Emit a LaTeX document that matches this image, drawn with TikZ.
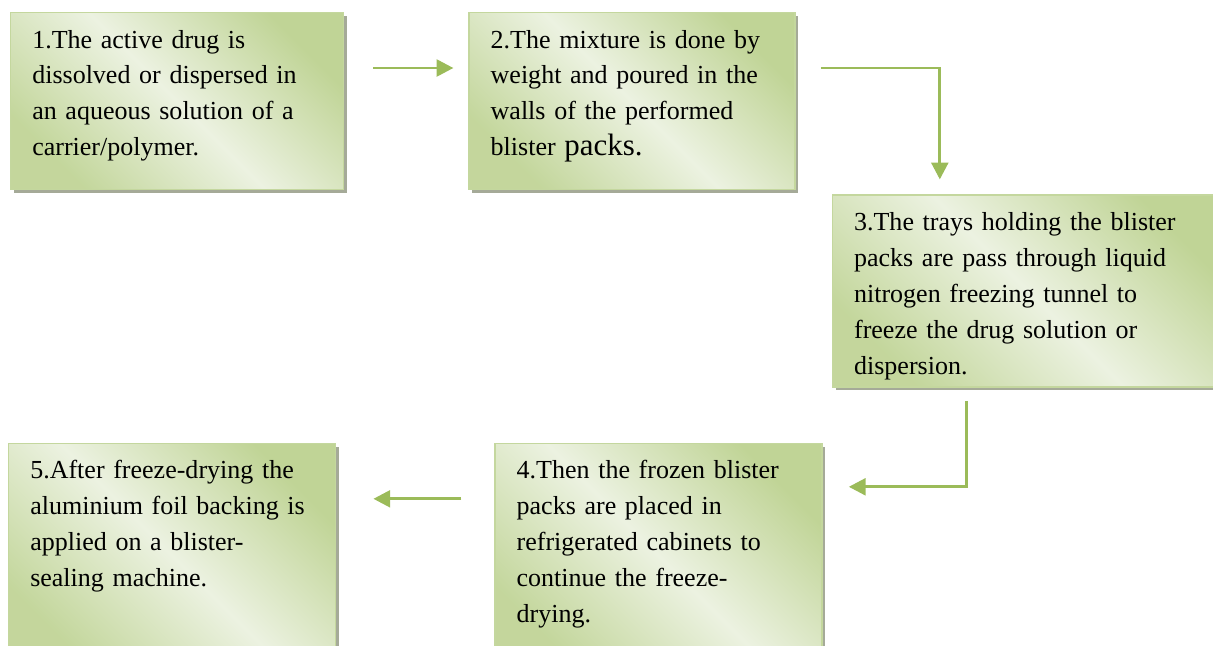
\documentclass[tikz,border=0pt]{standalone}
\usepackage{fontspec}
\setmainfont{Liberation Serif}
\usepackage{xcolor}
\definecolor{boxdark}{RGB}{192,212,150}
\definecolor{boxlight}{RGB}{236,242,225}
\definecolor{boxline}{RGB}{196,215,158}
\definecolor{shadowgray}{RGB}{165,170,152}
\definecolor{flowgreen}{RGB}{155,187,89}
\usetikzlibrary{arrows.meta,positioning,shadows}

\begin{document}
\begin{tikzpicture}[
  stage/.style={rectangle,draw=boxline,line width=1pt,inner sep=0pt,
                top color=boxdark,bottom color=boxdark!92!boxlight,
                middle color=boxlight,shading angle=-45,
                drop shadow={shadow xshift=0.075cm,shadow yshift=-0.075cm,
                             fill=shadowgray,opacity=1}},
  txt/.style={anchor=base west,inner sep=0pt,align=left,text width=9cm,
              font=\fontsize{18.5pt}{25.6pt}\selectfont},
  arr/.style={-{Triangle[length=0.42cm,width=0.42cm]},line width=2.1pt,
              color=flowgreen}
]
  \useasboundingbox (0,0) rectangle (30.325,-16.125);

  \node[stage,minimum width=8.325cm,minimum height=4.425cm,anchor=north west]
    (box1) at (0.25,-0.3) {};
  \node[stage,minimum width=8.15cm,minimum height=4.425cm,right=3.1cm of box1]
    (box2) {};
  \node[stage,minimum width=9.8cm,minimum height=4.8cm,
        below right=0.1cm and 0.9cm of box2] (box3) {};
  \node[stage,minimum width=8.175cm,minimum height=5.6cm,
        below left=1.375cm and 0.225cm of box3] (box4) {};
  \node[stage,minimum width=8.175cm,minimum height=5.6cm,left=3.95cm of box4]
    (box5) {};

  \node[txt] (txt1) at ([xshift=0.55cm,yshift=-0.9cm]box1.north west)
    {1.The active drug is\\dissolved or dispersed in\\an aqueous solution of a\\carrier/polymer.};
  \node[txt] (txt2) at ([xshift=0.55cm,yshift=-0.9cm]box2.north west)
    {2.The mixture is done by\\weight and poured in the\\walls of the performed\\blister {\fontsize{22pt}{26.5pt}\selectfont packs.}};
  \node[txt] (txt3) at ([xshift=0.55cm,yshift=-0.9cm]box3.north west)
    {3.The trays holding the blister\\packs are pass through liquid\\nitrogen freezing tunnel to\\freeze the drug solution or\\dispersion.};
  \node[txt] (txt4) at ([xshift=0.55cm,yshift=-0.9cm]box4.north west)
    {4.Then the frozen blister\\packs are placed in\\refrigerated cabinets to\\continue the freeze-\\drying.};
  \node[txt] (txt5) at ([xshift=0.55cm,yshift=-0.9cm]box5.north west)
    {5.After freeze-drying the\\aluminium foil backing is\\applied on a blister-\\sealing machine.};

  \draw[arr] ([xshift=0.725cm,yshift=-1.4cm]box1.north east)
    -- ([xshift=-0.375cm,yshift=-1.4cm]box2.north west);
  \draw[arr] ([xshift=0.625cm,yshift=-1.4cm]box2.north east)
    -| ([xshift=2.7cm,yshift=0.375cm]box3.north west);
  \draw[arr] ([xshift=3.375cm,yshift=-0.325cm]box3.south west)
    |- ([xshift=0.65cm,yshift=-1.1cm]box4.north east);
  \draw[arr] ([xshift=-0.825cm,yshift=-1.4cm]box4.north west)
    -- ([xshift=0.925cm,yshift=-1.4cm]box5.north east);
\end{tikzpicture}
\end{document}
